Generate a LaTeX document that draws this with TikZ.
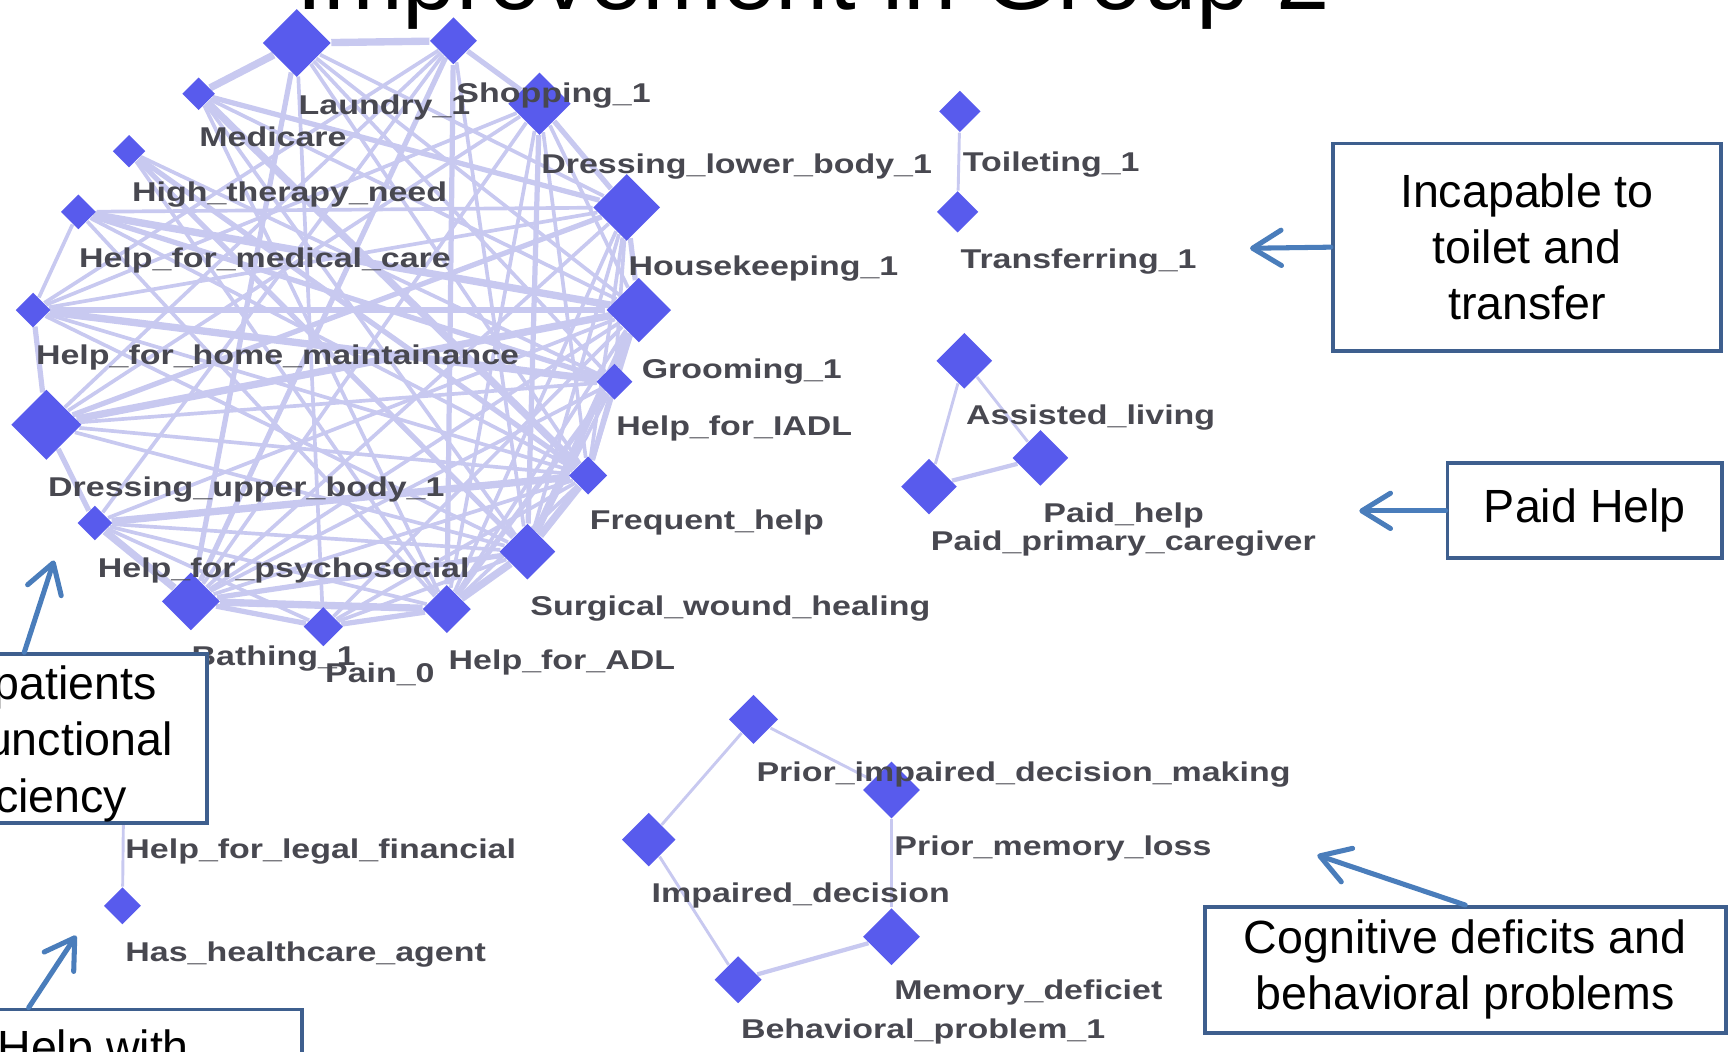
\documentclass[tikz,border=0pt]{standalone}
\usepackage{fontspec}
\setmainfont{Liberation Sans}
\newfontfamily\lblfont[FakeStretch=1.25]{Liberation Sans}
\usetikzlibrary{shapes.geometric,arrows.meta}
\definecolor{nodeblue}{RGB}{88,91,237}
\definecolor{edgelav}{RGB}{200,201,240}
\definecolor{lblgray}{RGB}{72,72,80}
\definecolor{boxblue}{RGB}{62,95,142}
\definecolor{arrblue}{RGB}{74,125,187}
\pgfdeclarelayer{edges}
\pgfsetlayers{edges,main}
\begin{document}
\begin{tikzpicture}[x=0.01cm,y=-0.01cm,
  dn/.style={diamond,fill=nodeblue,draw=none,inner sep=0pt,
    minimum width=#1*0.01cm,minimum height=#1*0.01cm},
  lbl/.style={font=\lblfont\bfseries\fontsize{7}{8}\selectfont,
    text=lblgray,anchor=base west,inner sep=0pt},
  ethin/.style={draw=edgelav,line width=0.95pt},
  emid/.style={draw=edgelav,line width=1.35pt},
  ethick/.style={draw=edgelav,line width=1.9pt},
  gthin/.style={draw=edgelav,line width=0.75pt},
  gmid/.style={draw=edgelav,line width=1.1pt},
  callbox/.style={draw=boxblue,line width=1pt,fill=white,rectangle,
    inner sep=0pt,align=center,text=black,
    font=\fontsize{12}{14.4}\selectfont},
  boxtext/.style={text=black,inner sep=0pt,
    font=\fontsize{12}{14.4}\selectfont},
  callarrow/.style={draw=arrblue,line width=1.3pt,line cap=round,
    -{Straight Barb[length=2.6mm,width=3.2mm,round]}}
]
\useasboundingbox (0,0) rectangle (1568,953);

% title, cut by the top edge of the page
\node[anchor=base west,inner sep=0pt,font=\fontsize{24.7}{30}\selectfont]
  (title) at (268,9) {Improvement in Group 2};

% ---------- main cluster ----------
\node[dn=62] (laundry)   at (269,39)  {};
\node[dn=43] (shopping)  at (411,37)  {};
\node[dn=30] (medicare)  at (180,85)  {};
\node[dn=30] (therapy)   at (117,137) {};
\node[dn=32] (medcare)   at (71,192)  {};
\node[dn=32] (homemaint) at (30,281)  {};
\node[dn=64] (dressup)   at (42,385)  {};
\node[dn=32] (psycho)    at (86,474)  {};
\node[dn=53] (bathing)   at (173,545) {};
\node[dn=36] (pain)      at (293,568) {};
\node[dn=44] (adl)       at (405,552) {};
\node[dn=51] (surgical)  at (478,500) {};
\node[dn=35] (frequent)  at (533,431) {};
\node[dn=33] (iadl)      at (557,346) {};
\node[dn=59] (grooming)  at (579,281) {};
\node[dn=61] (housekeep) at (568,188) {};
\node[dn=57] (dresslow)  at (489,94)  {};

% ---------- toileting pair ----------
\node[dn=38] (toilet)   at (870,101) {};
\node[dn=38] (transfer) at (868,192) {};

% ---------- paid help triangle ----------
\node[dn=51] (assisted) at (874,327) {};
\node[dn=51] (paidhelp) at (943,415) {};
\node[dn=51] (paidcare) at (842,441) {};

% ---------- cognitive ring ----------
\node[dn=45] (priordec) at (683,652) {};
\node[dn=52] (priormem) at (808,716) {};
\node[dn=49] (impdec)   at (588,761) {};
\node[dn=52] (memdef)   at (808,849) {};
\node[dn=43] (behav)    at (669,888) {};

% ---------- legal pair ----------
\node[dn=32] (legal) at (112,728) {};
\node[dn=34] (agent) at (111,821) {};

\begin{pgfonlayer}{edges}
  % strong links
  \foreach \a/\b in {laundry/shopping,laundry/medicare,bathing/adl,adl/surgical,
      psycho/frequent,homemaint/iadl,dressup/grooming,surgical/grooming,
      medicare/frequent,medcare/grooming,psycho/bathing,surgical/frequent}
    \draw[ethick] (\a) -- (\b);
  % medium links
  \foreach \a/\b in {homemaint/dressup,dressup/psycho,bathing/pain,pain/adl,
      frequent/iadl,iadl/grooming,grooming/housekeep,housekeep/dresslow,
      dresslow/shopping,shopping/adl,laundry/bathing,therapy/frequent,
      homemaint/grooming,medcare/iadl,dressup/housekeep,bathing/surgical,
      adl/iadl,therapy/surgical,shopping/bathing,dresslow/surgical,
      medicare/housekeep}
    \draw[emid] (\a) -- (\b);
  % weak links
  \foreach \a/\b in {medcare/homemaint,laundry/housekeep,laundry/grooming,
      laundry/pain,laundry/iadl,laundry/frequent,shopping/psycho,
      shopping/dressup,shopping/homemaint,shopping/surgical,medicare/surgical,
      medicare/adl,medicare/grooming,therapy/iadl,therapy/adl,medcare/frequent,
      medcare/housekeep,medcare/adl,homemaint/frequent,homemaint/surgical,
      homemaint/housekeep,homemaint/dresslow,dressup/iadl,dressup/frequent,
      dressup/surgical,dressup/dresslow,psycho/adl,psycho/pain,psycho/surgical,
      psycho/grooming,bathing/frequent,bathing/iadl,bathing/grooming,
      bathing/dresslow,bathing/housekeep,pain/surgical,pain/frequent,
      pain/grooming,adl/frequent,adl/grooming,adl/housekeep,adl/dresslow,
      surgical/iadl,surgical/housekeep,frequent/grooming,frequent/housekeep,
      frequent/dresslow,iadl/housekeep,grooming/dresslow}
    \draw[ethin] (\a) -- (\b);
  % small groups
  \draw[gthin] (toilet) -- (transfer);
  \draw[gthin] (assisted) -- (paidhelp);
  \draw[gthin] (assisted) -- (paidcare);
  \draw[gmid]  (paidhelp) -- (paidcare);
  \draw[gthin] (priordec) -- (priormem);
  \draw[gthin] (priordec) -- (impdec);
  \draw[gthin] (priormem) -- (memdef);
  \draw[gthin] (impdec) -- (behav);
  \draw[gmid]  (behav) -- (memdef);
  \draw[gthin] (legal) -- (agent);
\end{pgfonlayer}

% ---------- labels ----------
\node[lbl] (t-laundry)   at (270,104) {Laundry\_1};
\node[lbl] (t-shopping)  at (413,93)  {Shopping\_1};
\node[lbl] (t-medicare)  at (180,133) {Medicare};
\node[lbl] (t-therapy)   at (119,183) {High\_therapy\_need};
\node[lbl] (t-medcare)   at (71,242)  {Help\_for\_medical\_care};
\node[lbl] (t-homemaint) at (32,330)  {Help\_for\_home\_maintainance};
\node[lbl] (t-dressup)   at (43,450)  {Dressing\_upper\_body\_1};
\node[lbl] (t-psycho)    at (88,523)  {Help\_for\_psychosocial};
\node[lbl] (t-bathing)   at (173,603) {Bathing\_1};
\node[lbl] (t-pain)      at (294,619) {Pain\_0};
\node[lbl] (t-adl)       at (406,607) {Help\_for\_ADL};
\node[lbl] (t-surgical)  at (480,558) {Surgical\_wound\_healing};
\node[lbl] (t-frequent)  at (534,480) {Frequent\_help};
\node[lbl] (t-iadl)      at (558,395) {Help\_for\_IADL};
\node[lbl] (t-grooming)  at (581,343) {Grooming\_1};
\node[lbl] (t-housekeep) at (569,250) {Housekeeping\_1};
\node[lbl] (t-dresslow)  at (490,157) {Dressing\_lower\_body\_1};
\node[lbl] (t-toilet)    at (872,155) {Toileting\_1};
\node[lbl] (t-transfer)  at (870,243) {Transferring\_1};
\node[lbl] (t-assisted)  at (875,385) {Assisted\_living};
\node[lbl] (t-paidhelp)  at (945,474) {Paid\_help};
\node[lbl] (t-paidcare)  at (843,499) {Paid\_primary\_caregiver};
\node[lbl] (t-priordec)  at (685,708) {Prior\_impaired\_decision\_making};
\node[lbl] (t-priormem)  at (810,775) {Prior\_memory\_loss};
\node[lbl] (t-impdec)    at (590,818) {Impaired\_decision};
\node[lbl] (t-memdef)    at (810,906) {Memory\_deficiet};
\node[lbl] (t-behav)     at (671,941) {Behavioral\_problem\_1};
\node[lbl] (t-legal)     at (113,778) {Help\_for\_legal\_financial};
\node[lbl] (t-agent)     at (113,871) {Has\_healthcare\_agent};

% ---------- callouts ----------
\node[callbox,minimum width=352*0.01cm,minimum height=188*0.01cm]
  (boxT) at (1384,224) {Incapable to\\toilet and\\transfer};
\node[callbox,minimum width=249*0.01cm,minimum height=86*0.01cm]
  (boxP) at (1436.5,463) {Paid Help};
\node[callbox,minimum width=472*0.01cm,minimum height=114*0.01cm]
  (boxC) at (1328,879) {Cognitive deficits and\\behavioral problems};
\node[callbox,minimum width=332*0.01cm,minimum height=153*0.01cm]
  (boxF) at (22,669.5) {};
\node[boxtext,anchor=base east] (fA) at (143,634) {patients};
\node[boxtext,anchor=base east] (fB) at (157,685) {unctional};
\node[boxtext,anchor=base east] (fC) at (116,736) {ciency};
\node[callbox,minimum width=495*0.01cm,minimum height=150*0.01cm]
  (boxH) at (26,990) {};
\node[boxtext,anchor=base west] (hA) at (-3,964) {Help with};

\coordinate (tipT) at (1133,225);
\coordinate (tipP) at (1232,463);
\coordinate (tipC) at (1194,775);
\coordinate (tipF) at (49,508);
\coordinate (tipH) at (69,848);
\draw[callarrow] (boxT.west) -- (tipT);
\draw[callarrow] (boxP.west) -- (tipP);
\draw[callarrow] (boxC.north) -- (tipC);
\draw[callarrow] (boxF.north) -- (tipF);
\draw[callarrow] (boxH.north) -- (tipH);
\end{tikzpicture}
\end{document}
